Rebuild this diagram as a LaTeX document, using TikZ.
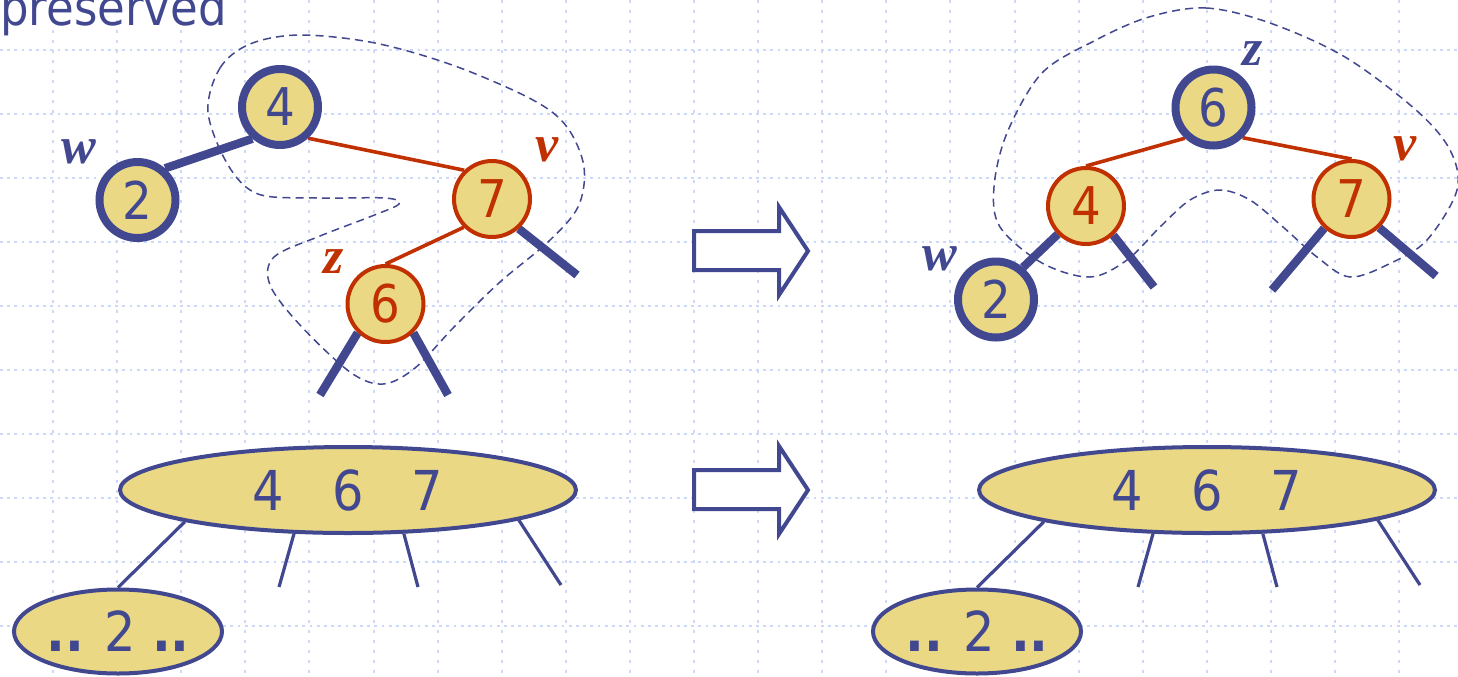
\documentclass[tikz,border=0pt]{standalone}
\usepackage{fontspec}
\setmainfont[FakeStretch=0.9]{DejaVu Sans}
\newfontfamily\lblfont{Liberation Serif}
\usetikzlibrary{shapes.geometric,backgrounds}
\definecolor{tblue}{RGB}{66,72,144}
\definecolor{tfill}{RGB}{235,216,132}
\definecolor{tred}{RGB}{192,48,0}
\definecolor{tgrid}{RGB}{204,217,251}
\tikzset{
  gridh/.style={tgrid, line width=1pt, dash pattern=on 1.4pt off 2.2pt},
  gridv/.style={tgrid, line width=1pt, dash pattern=on 1.4pt off 3.6pt},
  bnode/.style={circle, draw=tblue, line width=4pt, fill=tfill, minimum size=38pt, inner sep=0pt,
    text=tblue, font=\fontsize{26}{26}\selectfont},
  rnode/.style={circle, draw=tred, line width=2pt, fill=tfill, minimum size=38pt, inner sep=0pt,
    text=tred, font=\fontsize{26}{26}\selectfont},
  thickedge/.style={tblue, line width=4.2pt},
  redge/.style={tred, line width=1.8pt},
  lbl/.style={inner sep=0pt, font=\lblfont\bfseries\itshape\fontsize{26}{26}\selectfont},
  bigell/.style={ellipse, draw=tblue, line width=2pt, fill=tfill, minimum width=228pt, minimum height=43pt,
    inner sep=0pt, text=tblue, font=\fontsize{27.5}{27.5}\selectfont},
  smallell/.style={ellipse, draw=tblue, line width=2pt, fill=tfill, minimum width=104pt, minimum height=42pt,
    inner sep=0pt, text=tblue, font=\fontsize{27.5}{27.5}\selectfont},
  bedge/.style={tblue, line width=1.6pt},
  blockarrow/.style={draw=tblue, line width=2pt, fill=white, line join=miter},
  loop/.style={tblue, line width=0.75pt, dash pattern=on 4pt off 2.6pt},
}
\begin{document}
\begin{tikzpicture}[x=0.5pt,y=-0.5pt]
\useasboundingbox (0,0) rectangle (1458,676);
\begin{scope}[on background layer]
\fill[white] (0,0) rectangle (1458,676);
\foreach \k in {0,...,9} \draw[gridh] (0,{50+64*\k}) -- (1458,{50+64*\k});
\foreach \k in {0,...,21} \draw[gridv] ({53+64.1*\k},0) -- ({53+64.1*\k},676);
\end{scope}

% title
\node[anchor=base west, inner sep=0pt, text=tblue, font=\fontsize{25}{25}\selectfont] (title) at (0,25) {preserved};

% ---------- left tree ----------
\node[bnode] (L4) at (280,107) {4};
\node[bnode] (L2) at (137.5,200) {2};
\node[rnode] (L7) at (492,199) {7};
\node[rnode] (L6) at (385.5,304) {6};
\coordinate (L7r) at (577,275);
\coordinate (L6l) at (320,395);
\coordinate (L6r) at (448,395);
\begin{scope}[on background layer]
\draw[thickedge] (L4.-131) -- (L2.49);
\draw[redge] (L4.-48) -- (L7.134);
\draw[redge] (L7.south west) -- (L6.north);
\draw[thickedge] (L7.-48) -- (L7r);
\draw[thickedge] (L6.-134) -- (L6l);
\draw[thickedge] (L6.-46) -- (L6r);
\end{scope}
\node[lbl, text=tblue] (Lw) at (79,152) {w};
\node[lbl, text=tred] (Lv) at (547,150) {v};
\node[lbl, text=tred] (Lz) at (334,262) {z};

\draw[loop] plot[smooth cycle, tension=0.55] coordinates {
  (208,112) (220,68) (250,44) (300,35) (375,43) (455,66) (533,100) (567,127) (584,167)
  (578,207) (548,242) (500,282) (455,326) (415,368) (383,384) (350,372) (300,325)
  (270,285) (274,257) (320,236) (372,216) (399,204) (385,198) (317,198) (258,194) (228,165)};

% ---------- right tree ----------
\node[bnode] (R6) at (1213.5,107.5) {6};
\node[rnode] (R4) at (1086,206) {4};
\node[rnode] (R7) at (1351.5,199) {7};
\node[bnode] (R2) at (996,299.5) {2};
\coordinate (R4r) at (1154,287);
\coordinate (R7l) at (1272,290);
\coordinate (R7r) at (1436,276);
\begin{scope}[on background layer]
\draw[redge] (R6.-133) -- (R4.north);
\draw[redge] (R6.-46) -- (R7.north);
\draw[thickedge] (R4.south west) -- (R2.50);
\draw[thickedge] (R4.-47) -- (R4r);
\draw[thickedge] (R7.-133) -- (R7l);
\draw[thickedge] (R7.-46) -- (R7r);
\end{scope}
\node[lbl, text=tblue] (Rz) at (1253,54) {z};
\node[lbl, text=tred] (Rv) at (1405,149) {v};
\node[lbl, text=tblue] (Rw) at (940,259) {w};

\draw[loop] plot[smooth cycle, tension=0.55] coordinates {
  (1149,17) (1206,8) (1270,23) (1345,57) (1416,110) (1450,150) (1457,190) (1427,240)
  (1391,263) (1350,277) (1317,257) (1283,227) (1250,200) (1220,190) (1190,200) (1160,227)
  (1127,260) (1090,277) (1042,263) (1000,227) (994,187) (1007,133) (1042,73) (1096,40)};

% ---------- block arrows ----------
\draw[blockarrow] (694,231) -- (779,231) -- (779,207) -- (808,251) -- (779,295) -- (779,270) -- (694,270) -- cycle;
\draw[blockarrow] (694,470) -- (779,470) -- (779,446) -- (808,490) -- (779,534) -- (779,509) -- (694,509) -- cycle;

% ---------- bottom left ----------
\node[bigell] (BL) at (348,490) {4\hspace{24pt}6\hspace{24pt}7};
\node[smallell] (SL) at (118,631.5) {\textbf{..} 2 \textbf{..}};
\coordinate (BL2) at (279,587);
\coordinate (BL3) at (418,587);
\coordinate (BL4) at (561,585);
\draw[bedge] (BL.-169) -- (SL.north);
\draw[bedge] (BL.-141) -- (BL2);
\draw[bedge] (BL.-38.5) -- (BL3);
\draw[bedge] (BL.-10.7) -- (BL4);

% ---------- bottom right ----------
\node[bigell] (BR) at (1207,490) {4\hspace{24pt}6\hspace{24pt}7};
\node[smallell] (SR) at (977,631.5) {\textbf{..} 2 \textbf{..}};
\coordinate (BR2) at (1138,587);
\coordinate (BR3) at (1277,587);
\coordinate (BR4) at (1420,585);
\draw[bedge] (BR.-169) -- (SR.north);
\draw[bedge] (BR.-141) -- (BR2);
\draw[bedge] (BR.-38.5) -- (BR3);
\draw[bedge] (BR.-10.7) -- (BR4);
\end{tikzpicture}
\end{document}
